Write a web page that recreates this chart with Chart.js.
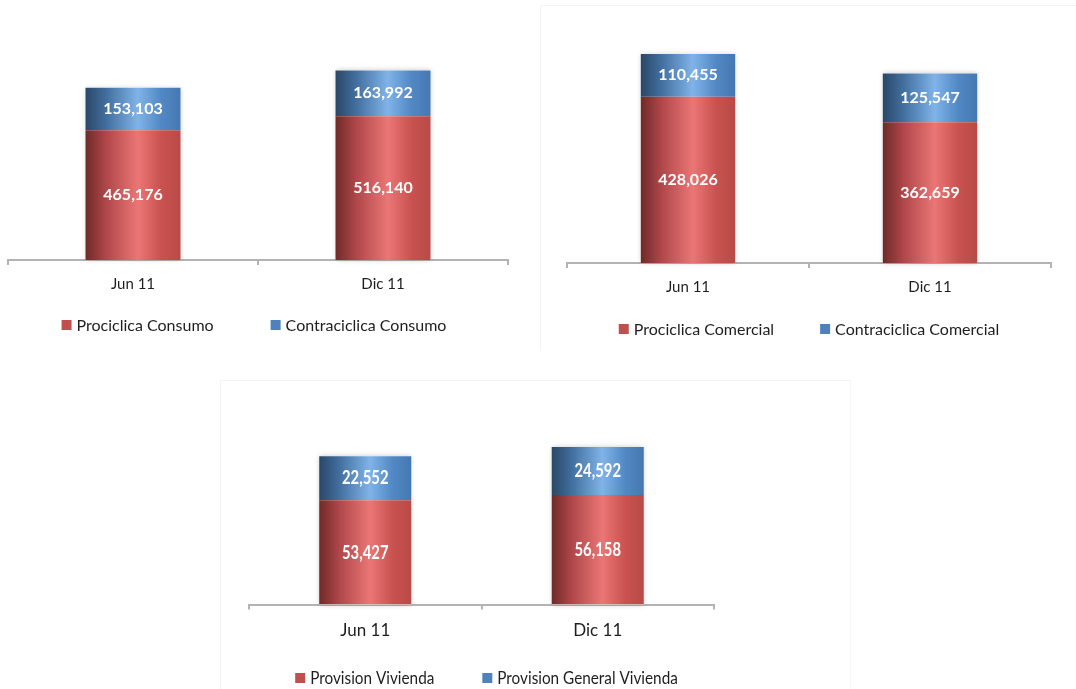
<!DOCTYPE html>
<html>
<head>
<meta charset="utf-8">
<script src="https://cdn.jsdelivr.net/npm/chart.js@4.4.1/dist/chart.umd.min.js"></script>
<style>
  html, body { margin:0; padding:0; background:#fff; width:1076px; height:689px; overflow:hidden; }
  .panel { position:absolute; }
  #p2 { border-left:1px solid #f3f3f3; border-top:1px solid #f3f3f3; }
  #p3 { border-left:1px solid #f3f3f3; border-top:1px solid #f3f3f3; border-right:1px solid #f6f6f6; }
  canvas { display:block; }
</style>
</head>
<body>
<div class="panel" id="p1" style="left:0px;top:0px;width:516px;height:345px;"><canvas id="c1" width="516" height="345"></canvas></div>
<div class="panel" id="p2" style="left:540px;top:5px;width:536px;height:345px;"><canvas id="c2" width="536" height="345"></canvas></div>
<div class="panel" id="p3" style="left:220px;top:380px;width:629px;height:309px;"><canvas id="c3" width="629" height="309"></canvas></div>
<script>
// ---- data ----
const categories = ['Jun 11', 'Dic 11'];
const consumoLabels = ['Prociclica Consumo', 'Contraciclica Consumo'];
const consumoPro = [465176, 516140];
const consumoContra = [153103, 163992];
const comercialLabels = ['Prociclica Comercial', 'Contraciclica Comercial'];
const comercialPro = [428026, 362659];
const comercialContra = [110455, 125547];
const viviendaLabels = ['Provision Vivienda', 'Provision General Vivienda'];
const viviendaProv = [53427, 56158];
const viviendaGeneral = [22552, 24592];

const FONT = 'Lato, "Open Sans", "DejaVu Sans", sans-serif';
const RED = ['#6f2a28', '#b0474a', '#ea7675', '#c9524f', '#b84a47'];
const BLUE = ['#2a4767', '#426f9f', '#80b3e8', '#5188c4', '#4578b2'];

function gradFill(stops, barPct) {
  return (ctx) => {
    const chart = ctx.chart;
    const xs = chart.scales && chart.scales.x;
    if (!xs || !chart.chartArea || ctx.dataIndex === undefined) return stops[3];
    const cx = xs.getPixelForValue(ctx.dataIndex);
    const w = xs.width / chart.data.labels.length * barPct;
    const g = chart.ctx.createLinearGradient(cx - w / 2, 0, cx + w / 2, 0);
    g.addColorStop(0, stops[0]);
    g.addColorStop(0.22, stops[1]);
    g.addColorStop(0.55, stops[2]);
    g.addColorStop(0.8, stops[3]);
    g.addColorStop(1, stops[4]);
    return g;
  };
}

const shadowPlugin = {
  id: 'barShadow',
  beforeDatasetsDraw(chart) {
    const ctx = chart.ctx;
    const metas = chart.getSortedVisibleDatasetMetas();
    ctx.save();
    ctx.shadowColor = 'rgba(0,0,0,0.22)';
    ctx.shadowBlur = 5;
    ctx.fillStyle = '#ffffff';
    const first = metas[0], last = metas[metas.length - 1];
    first.data.forEach((el, i) => {
      const top = last.data[i].y;
      const base = el.base;
      ctx.fillRect(el.x - el.width / 2, top, el.width, base - top);
    });
    ctx.restore();
  }
};

const valueLabels = {
  id: 'valueLabels',
  afterDatasetsDraw(chart, args, opts) {
    const ctx = chart.ctx;
    ctx.save();
    ctx.fillStyle = '#ffffff';
    ctx.font = opts.font;
    ctx.textAlign = 'center';
    ctx.textBaseline = 'middle';
    chart.getSortedVisibleDatasetMetas().forEach((meta) => {
      const ds = chart.data.datasets[meta.index];
      meta.data.forEach((el, i) => {
        const v = ds.data[i];
        const y = (el.y + el.base) / 2 + (opts.dy || 0);
        ctx.save();
        ctx.translate(el.x, y);
        ctx.scale(opts.scaleX || 1, 1);
        ctx.fillText(v.toLocaleString('en-US'), 0, 0);
        ctx.restore();
      });
    });
    ctx.restore();
  }
};

const boxLegend = {
  id: 'boxLegend',
  afterDraw(chart, args, opts) {
    const ctx = chart.ctx;
    const items = chart.data.datasets.map((d) => ({ text: d.label, color: d.legendColor }));
    const sx = opts.scaleX || 1;
    ctx.save();
    ctx.font = opts.font;
    const box = opts.box, tg = opts.textGap, gap = opts.gap;
    const widths = items.map((it) => box + tg + ctx.measureText(it.text).width * sx);
    const total = widths.reduce((a, b) => a + b, 0) + gap * (items.length - 1);
    const ca = chart.chartArea;
    let x = (ca.left + ca.right) / 2 - total / 2 + (opts.dx || 0);
    const y = opts.y;
    ctx.textBaseline = 'middle';
    ctx.textAlign = 'left';
    items.forEach((it, i) => {
      ctx.fillStyle = it.color;
      ctx.fillRect(x, y - box / 2, box, box);
      ctx.fillStyle = '#1e1e1e';
      ctx.save();
      ctx.translate(x + box + tg, y + 1);
      ctx.scale(sx, 1);
      ctx.fillText(it.text, 0, 0);
      ctx.restore();
      x += widths[i] + gap;
    });
    ctx.restore();
  }
};

function makeChart(id, cfg) {
  const barPct = cfg.barPct;
  return new Chart(document.getElementById(id), {
    type: 'bar',
    data: {
      labels: categories,
      datasets: [
        { label: cfg.labels[0], data: cfg.pro, backgroundColor: gradFill(RED, barPct), legendColor: '#c0504d',
          barPercentage: barPct, categoryPercentage: 1, borderWidth: 0 },
        { label: cfg.labels[1], data: cfg.contra, backgroundColor: gradFill(BLUE, barPct), legendColor: '#4f81bd',
          barPercentage: barPct, categoryPercentage: 1, borderWidth: 0 }
      ]
    },
    options: {
      responsive: false,
      animation: false,
      devicePixelRatio: 1,
      layout: { padding: cfg.padding },
      scales: {
        x: {
          stacked: true,
          grid: { display: true, drawOnChartArea: false, drawTicks: true, tickLength: 5, color: '#b3b3b3', lineWidth: 2, offset: true },
          border: { display: true, color: '#b3b3b3', width: 2 },
          ticks: { color: '#1e1e1e', font: { family: FONT, size: cfg.tickSize }, padding: cfg.tickPad, maxRotation: 0 }
        },
        y: { stacked: true, display: false, min: 0, max: cfg.ymax }
      },
      plugins: {
        legend: { display: false },
        tooltip: { enabled: false },
        valueLabels: { font: cfg.valueFont, scaleX: cfg.valueScaleX, dy: 0 },
        boxLegend: { font: cfg.legendFont, box: 10, textGap: 5, gap: cfg.legendGap, y: cfg.legendY, dx: cfg.legendDx, scaleX: cfg.legendScaleX }
      }
    },
    plugins: [shadowPlugin, valueLabels, boxLegend]
  });
}

makeChart('c1', {
  labels: consumoLabels, pro: consumoPro, contra: consumoContra,
  barPct: 0.38, ymax: 800000,
  padding: { left: 8, right: 8, top: 37, bottom: 42 },
  tickSize: 15, tickPad: 10,
  valueFont: 'bold 16px ' + FONT, valueScaleX: 1,
  legendFont: '16px ' + FONT, legendGap: 57, legendY: 325, legendDx: -4, legendScaleX: 1
});

makeChart('c2', {
  labels: comercialLabels, pro: comercialPro, contra: comercialContra,
  barPct: 0.39, ymax: 600000,
  padding: { left: 26, right: 26, top: 24, bottom: 45 },
  tickSize: 15, tickPad: 10,
  valueFont: 'bold 16px ' + FONT, valueScaleX: 1,
  legendFont: '16px ' + FONT, legendGap: 46, legendY: 323, legendDx: 0, legendScaleX: 1
});

makeChart('c3', {
  labels: viviendaLabels, pro: viviendaProv, contra: viviendaGeneral,
  barPct: 0.396, ymax: 90000,
  padding: { left: 28, right: 136, top: 48, bottom: 38 },
  tickSize: 17, tickPad: 11,
  valueFont: 'bold 19px ' + FONT, valueScaleX: 0.78,
  legendFont: '17px ' + FONT, legendGap: 48, legendY: 297, legendDx: 5, legendScaleX: 0.9
});
</script>
</body>
</html>
